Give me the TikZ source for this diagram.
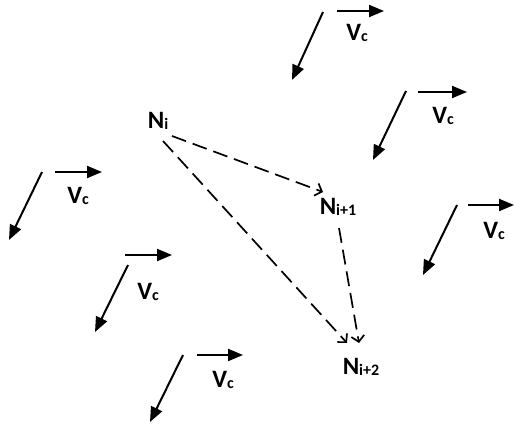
\documentclass[tikz,border=0pt]{standalone}
\usepackage{fontspec}
\setmainfont{Carlito}
\usetikzlibrary{arrows.meta}
\newcommand\mylbl[2]{#1\raisebox{-1pt}{\fontsize{16}{16}\selectfont\bfseries #2}}
\begin{document}
\begin{tikzpicture}[x=1pt,y=-1pt,
  lbl/.style={font=\bfseries\fontsize{25}{25}\selectfont, inner sep=0pt},
  velarrow/.style={line width=2pt, -{Triangle[length=15pt,width=12pt]}},
  dasharrow/.style={line width=1.7pt, dash pattern=on 15pt off 7pt, -{Straight Barb[length=6pt,width=13pt]}}]
\useasboundingbox (0,0) rectangle (514,430);
% nodes
\node[lbl] (ni)   at (158,121) {\mylbl{N}{i}};
\node[lbl] (nip1) at (338,207) {\mylbl{N}{i+1}};
\node[lbl] (nip2) at (361,367) {\mylbl{N}{i+2}};
% dashed connectors
\draw[dasharrow] ([shift={(14,15)}]ni.center) -- ([shift={(-15,-15)}]nip1.center);
\draw[dasharrow] ([shift={(5,20)}]ni.center) -- ([shift={(-14,-24)}]nip2.center);
\draw[dasharrow] ([shift={(1,21)}]nip1.center) -- ([shift={(-2,-24)}]nip2.center);
% velocity groups
\foreach \dx/\dy/\ex/\ey/\hx/\hy/\hex/\lx/\ly [count=\k] in {
  323/12/292/80/337/11/384/357/33,
  406/91/373/160/418/92/467/443/116,
  42/172/9/240/55/172/102/78/196,
  457/205/423/275/468/205/514/494/231,
  128/265/95/332/125/255/172/148/292,
  183/355/150/422/197/355/243/223/380}{
  \draw[velarrow] (\dx,\dy) -- (\ex,\ey);
  \draw[velarrow] (\hx,\hy) -- (\hex,\hy);
  \node[lbl] (vc\k) at (\lx,\ly) {\mylbl{V}{c}};
}
\end{tikzpicture}
\end{document}
